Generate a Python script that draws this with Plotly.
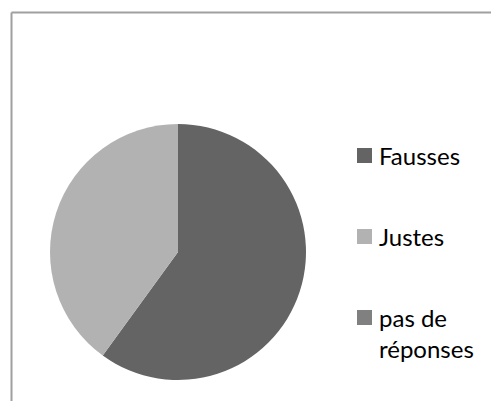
import plotly.graph_objects as go

labels = ["Fausses", "Justes", "pas de réponses"]
legend_text = ["Fausses", "Justes", "pas de<br>réponses"]
values = [60, 40, 0]
colors = ["#646464", "#b2b2b2", "#808080"]

OFF = 8  # page body margin
W, H = 499 - OFF, 401 - OFF

def px(x):
    return (x - OFF) / W

def py(y):
    return 1 - (y - OFF) / H

fig = go.Figure()
fig.add_trace(go.Pie(
    labels=labels, values=values, sort=False, direction="clockwise",
    marker=dict(colors=colors, line=dict(width=0)),
    textinfo="none", hoverinfo="label+percent", showlegend=False,
    domain=dict(x=[px(50), px(306)], y=[py(380), py(124)]),
))

shapes = [
    dict(type="line", xref="paper", yref="paper", x0=px(11.5), x1=px(11.5), y0=0, y1=py(12.5),
         line=dict(color="#a0a0a0", width=2)),
    dict(type="line", xref="paper", yref="paper", x0=px(11.5), x1=px(497.5), y0=py(12.5), y1=py(12.5),
         line=dict(color="#a0a0a0", width=2)),
    dict(type="line", xref="paper", yref="paper", x0=px(497.5), x1=px(497.5), y0=0, y1=py(12.5),
         line=dict(color="#a0a0a0", width=2)),
]
annotations = []
sq_tops = [148, 229, 310]
text_y = [155, 236, 333]
for i in range(3):
    shapes.append(dict(type="rect", xref="paper", yref="paper",
                       x0=px(357), x1=px(372), y0=py(sq_tops[i] + 15), y1=py(sq_tops[i]),
                       fillcolor=colors[i], line=dict(width=0)))
    annotations.append(dict(xref="paper", yref="paper", x=px(377), y=py(text_y[i]),
                            xanchor="left", yanchor="middle", showarrow=False, align="left",
                            text=legend_text[i],
                            font=dict(family="Lato", size=24, color="#000000")))

fig.update_layout(
    width=W, height=H, margin=dict(l=0, r=0, t=0, b=0),
    paper_bgcolor="white", plot_bgcolor="white",
    shapes=shapes, annotations=annotations,
)
fig.write_html("out.html")
